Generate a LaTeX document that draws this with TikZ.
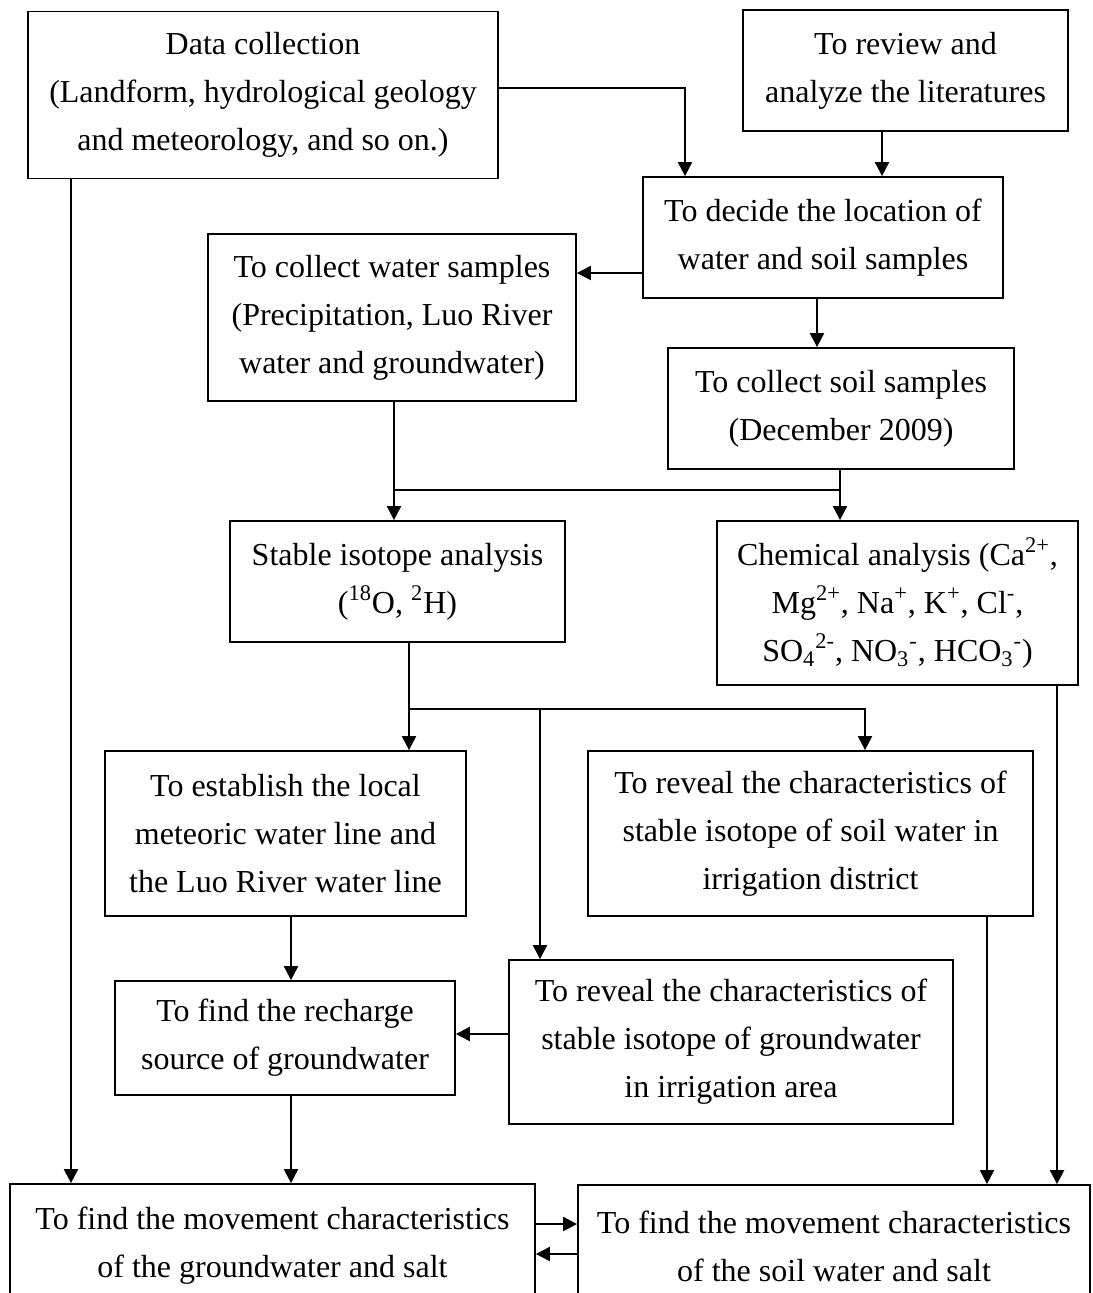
\documentclass[tikz,border=0pt]{standalone}
\usepackage{fontspec}
\setmainfont{Liberation Serif}
\usetikzlibrary{arrows.meta}
\newcommand{\boxfont}{\fontsize{16pt}{24pt}\selectfont}

\begin{document}
\begin{tikzpicture}[x=0.5pt,y=-0.5pt,
	box/.style={draw, line width=0.9pt, inner sep=0pt, align=center, font=\boxfont},
	arr/.style={line width=1.1pt, -{Triangle[length=7pt,width=7pt]}},
	ln/.style={line width=1.1pt}]
		\useasboundingbox (0,0) rectangle (1092,1293);
		\clip (0,0) rectangle (1092,1293);

		\node[box, minimum width=235pt, minimum height=83.5pt] (data) at (263,95) {Data collection\\(Landform, hydrological geology\\and meteorology, and so on.)};
		\node[box, minimum width=162.5pt, minimum height=60.5pt] (review) at (905.5,70.5) {To review and\\analyze the literatures};
		\node[box, minimum width=180pt, minimum height=60.5pt] (decide) at (823,237.5) {To decide the location of\\water and soil samples};
		\node[box, minimum width=184pt, minimum height=83.5pt] (water) at (392,317.5) {To collect water samples\\(Precipitation, Luo River\\water and groundwater)};
		\node[box, minimum width=173pt, minimum height=60.5pt] (soil) at (841,408.5) {To collect soil samples\\(December 2009)};
		\node[box, minimum width=167.5pt, minimum height=60.5pt] (stable) at (397.5,581.5) {Stable isotope analysis\\(\textsuperscript{18}O, \textsuperscript{2}H)};
		\node[box, minimum width=180.5pt, minimum height=82pt] (chem) at (897.5,603) {Chemical analysis (Ca\textsuperscript{2+},\\Mg\textsuperscript{2+}, Na\textsuperscript{+}, K\textsuperscript{+}, Cl\textsuperscript{-},\\SO\textsubscript{4}\textsuperscript{2-}, NO\textsubscript{3}\textsuperscript{-}, HCO\textsubscript{3}\textsuperscript{-})};
		\node[box, minimum width=180.5pt, minimum height=82.5pt] (lmwl) at (285.5,833.5) {To establish the local\\meteoric water line and\\the Luo River water line};
		\node[box, minimum width=222.5pt, minimum height=82.5pt] (soiliso) at (810.5,833.5) {To reveal the characteristics of\\stable isotope of soil water in\\irrigation district};
		\node[box, minimum width=170pt, minimum height=57pt] (recharge) at (285,1038) {To find the recharge\\source of groundwater};
		\node[box, minimum width=222pt, minimum height=82pt] (gwiso) at (731,1042) {To reveal the characteristics of\\stable isotope of groundwater\\in irrigation area};
		\node[box, minimum width=262.5pt, minimum height=61.5pt] (gwmove) at (272.5,1245.5) {To find the movement characteristics\\of the groundwater and salt};
		\node[box, minimum width=256pt, minimum height=61pt] (soilmove) at (834,1246) {To find the movement characteristics\\of the soil water and salt};

		\coordinate (j1) at (394,490);
		\coordinate (j2) at (840,490);
		\coordinate (k1) at (409,709);
		\coordinate (k2) at (540,709);

		\draw[arr] (data.east |- 0,88) -| (decide.north -| 685,0);
		\draw[arr] (review.south -| 882,0) -- (decide.north -| 882,0);
		\draw[arr] (decide.west |- 0,273) -- (water.east |- 0,273);
		\draw[arr] (decide.south -| 817,0) -- (soil.north -| 817,0);

		\draw[arr] (water.south -| 394,0) -- (stable.north -| 394,0);
		\draw[arr] (soil.south -| 840,0) -- (chem.north -| 840,0);
		\draw[ln] (j1) -- (j2);

		\draw[arr] (stable.south -| 409,0) -- (lmwl.north -| 409,0);
		\draw[arr] (k1) -| (soiliso.north -| 865,0);
		\draw[arr] (k2) -- (gwiso.north -| 540,0);

		\draw[arr] (lmwl.south -| 291,0) -- (recharge.north -| 291,0);
		\draw[arr] (gwiso.west |- 0,1034) -- (recharge.east |- 0,1034);
		\draw[arr] (recharge.south -| 291,0) -- (gwmove.north -| 291,0);
		\draw[arr] (data.south -| 71,0) -- (gwmove.north -| 71,0);

		\draw[arr] (soiliso.south -| 987,0) -- (soilmove.north -| 987,0);
		\draw[arr] (chem.south -| 1057,0) -- (soilmove.north -| 1057,0);
		\draw[arr] (gwmove.east |- 0,1224) -- (soilmove.west |- 0,1224);
		\draw[arr] (soilmove.west |- 0,1254) -- (gwmove.east |- 0,1254);
	\end{tikzpicture}
\end{document}
